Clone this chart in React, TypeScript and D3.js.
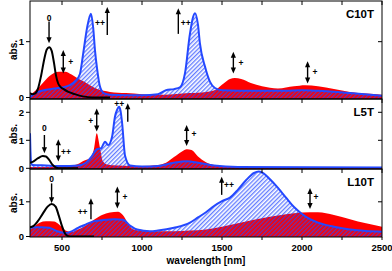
import React from "react";
import * as d3 from "d3";

type P = [number, number];

// ---- data (wavelength nm, absorbance) ----
const c10tNeutral: P[] = [[300,0.08],[315,0.06],[330,0.07],[350,0.16],[370,0.4],[390,0.7],[405,0.86],[420,0.9],[435,0.84],[450,0.62],[462,0.4],[475,0.26],[490,0.19],[510,0.15],[540,0.1],[580,0.06],[630,0.02],[690,0.0],[800,0]];
const c10tCation: P[] = [[300,0.05],[340,0.14],[380,0.26],[420,0.38],[450,0.44],[480,0.46],[520,0.46],[560,0.41],[600,0.34],[640,0.28],[680,0.21],[720,0.15],[800,0.1],[900,0.08],[1000,0.06],[1100,0.05],[1200,0.06],[1300,0.08],[1400,0.1],[1460,0.14],[1510,0.25],[1550,0.33],[1580,0.35],[1620,0.33],[1680,0.26],[1750,0.2],[1850,0.16],[1950,0.2],[2020,0.22],[2100,0.2],[2200,0.15],[2300,0.1],[2400,0.07],[2500,0.05]];
const c10tDication: P[] = [[300,0.01],[320,0.05],[350,0.1],[400,0.14],[450,0.16],[500,0.18],[550,0.22],[585,0.3],[612,0.42],[633,0.8],[658,1.27],[681,1.5],[695,1.25],[706,0.85],[720,0.5],[737,0.2],[760,0.08],[800,0.05],[1000,0.04],[1100,0.06],[1150,0.13],[1200,0.15],[1237,0.18],[1269,0.44],[1300,1.15],[1331,1.51],[1350,1.3],[1362,0.97],[1394,0.55],[1425,0.28],[1456,0.17],[1500,0.13],[1700,0.12],[1900,0.12],[2000,0.13],[2100,0.12],[2300,0.08],[2500,0.03]];

const l5tNeutral: P[] = [[300,0.2],[320,0.24],[350,0.36],[380,0.44],[400,0.42],[420,0.3],[440,0.13],[460,0.03],[480,0],[600,0]];
const l5tCation: P[] = [[300,0.05],[400,0.05],[500,0.05],[550,0.08],[600,0.15],[640,0.28],[675,0.36],[700,0.7],[717,1.25],[735,0.8],[756,0.25],[780,0.14],[850,0.1],[1000,0.08],[1100,0.12],[1150,0.2],[1200,0.4],[1250,0.6],[1280,0.68],[1310,0.65],[1350,0.42],[1400,0.22],[1450,0.12],[1500,0.07],[1600,0.04],[2000,0.02],[2500,0.02]];
const l5tDication: P[] = [[300,1.25],[303,0.6],[307,0.2],[315,0.12],[400,0.1],[500,0.08],[600,0.1],[650,0.2],[685,0.42],[717,0.68],[745,0.72],[769,0.95],[788,0.83],[813,1.13],[831,1.84],[845,2.1],[856,2.2],[866,2.05],[876,1.6],[894,0.45],[925,0.1],[1000,0.06],[1100,0.08],[1200,0.2],[1280,0.25],[1350,0.2],[1450,0.1],[1600,0.05],[2500,0.03]];

const l10tNeutral: P[] = [[300,0.27],[320,0.3],[350,0.45],[380,0.66],[410,0.86],[435,0.94],[460,0.86],[480,0.6],[500,0.3],[520,0.08],[540,0.01],[560,0],[700,0]];
const l10tCation: P[] = [[300,0.2],[330,0.3],[360,0.4],[400,0.44],[450,0.43],[480,0.35],[520,0.18],[560,0.13],[600,0.2],[650,0.32],[700,0.48],[750,0.62],[800,0.69],[850,0.71],[880,0.62],[910,0.4],[940,0.22],[1000,0.17],[1100,0.15],[1200,0.15],[1300,0.17],[1400,0.2],[1500,0.28],[1600,0.38],[1700,0.48],[1800,0.57],[1900,0.64],[2000,0.69],[2100,0.7],[2200,0.62],[2300,0.5],[2400,0.38],[2500,0.28]];
const l10tDication: P[] = [[300,0.25],[330,0.27],[370,0.27],[420,0.25],[470,0.15],[520,0.1],[560,0.15],[600,0.25],[650,0.35],[690,0.43],[750,0.47],[830,0.5],[880,0.48],[930,0.3],[970,0.2],[1050,0.15],[1100,0.17],[1200,0.25],[1300,0.4],[1350,0.55],[1400,0.7],[1450,0.88],[1500,1.02],[1550,1.12],[1600,1.35],[1650,1.62],[1700,1.83],[1730,1.87],[1760,1.82],[1800,1.65],[1850,1.4],[1900,1.12],[1950,0.85],[2000,0.65],[2050,0.5],[2100,0.4],[2200,0.28],[2300,0.2],[2400,0.16],[2500,0.14]];

const panelNames = ["C10T", "L5T", "L10T"];
const leftTicks = [[0, 1], [0, 1, 2], [0, 1]];
const rightTicks = [[1], [1, 2], [1]];
const xTicks = [500, 750, 1000, 1250, 1500, 1750, 2000, 2250, 2500];
const xLabels = [500, 1000, 1500, 2000, 2500];

// arrows: [nm, from, to, kind]  kind: "down" | "up" | "both"
type Arrow = [number, number, number, string];
type Lbl = [number, number, string];
const arrowsC10T: Arrow[] = [[419,1.36,0.97,"down"],[508,0.85,0.43,"both"],[783,1.12,1.62,"up"],[1227,1.14,1.6,"up"],[1571,0.82,0.43,"both"],[2035,0.65,0.25,"both"]];
const labelsC10T: Lbl[] = [[419,1.43,"0"],[554,0.64,"+"],[737,1.34,"++"],[1273,1.34,"++"],[1619,0.62,"+"],[2081,0.46,"+"]];
const arrowsL5T: Arrow[] = [[390,1.19,0.54,"down"],[477,1.04,0.24,"both"],[717,2.14,1.31,"both"],[911,1.66,2.32,"up"],[1279,1.55,0.8,"both"]];
const labelsL5T: Lbl[] = [[390,1.43,"0"],[525,0.59,"++"],[679,1.69,"+"],[858,2.29,"++"],[1325,1.21,"+"]];
const arrowsL10T: Arrow[] = [[435,1.53,0.96,"down"],[681,0.5,1.1,"up"],[846,1.44,0.81,"both"],[1498,1.2,1.72,"up"],[2050,1.4,0.79,"both"]];
const labelsL10T: Lbl[] = [[435,1.65,"0"],[629,0.71,"++"],[894,1.15,"+"],[1544,1.48,"++"],[2087,1.14,"+"]];

const neutral = [c10tNeutral, l5tNeutral, l10tNeutral];
const cation = [c10tCation, l5tCation, l10tCation];
const dication = [c10tDication, l5tDication, l10tDication];
const arrows = [arrowsC10T, arrowsL5T, arrowsL10T];
const labels = [labelsC10T, labelsL5T, labelsL10T];

// ---- layout ----
const W = 392, H = 271;
const X0 = 30, X1 = 382;
const panels = [
  { top: 1, bottom: 99, domain: [-0.027, 1.729] },
  { top: 99, bottom: 169, domain: [-0.025, 2.475] },
  { top: 169, bottom: 237, domain: [-0.014, 1.945] },
];
const RED = "#ff0000";
const BLUE = "#2448ff";
const FONT = "'Liberation Sans', Arial, sans-serif";

const x = d3.scaleLinear().domain([300, 2500]).range([X0, X1]);

function ArrowMark({ px, y1, y2, kind }: { px: number; y1: number; y2: number; kind: string }) {
  const hw = 2.6, hl = 6;
  const head = (tip: number, dir: number) =>
    `M${px},${tip} L${px - hw},${tip - dir * hl} L${px + hw},${tip - dir * hl} Z`;
  const top = Math.min(y1, y2), bot = Math.max(y1, y2);
  const parts: React.ReactNode[] = [];
  let ls = top, le = bot;
  if (kind === "down" || kind === "both") { parts.push(<path key="d" d={head(bot, 1)} fill="#000" />); le = bot - hl + 1; }
  if (kind === "up" || kind === "both") { parts.push(<path key="u" d={head(top, -1)} fill="#000" />); ls = top + hl - 1; }
  return (
    <g>
      <line x1={px} x2={px} y1={ls} y2={le} stroke="#000" strokeWidth={1.4} />
      {parts}
    </g>
  );
}

export default function App() {
  return (
    <svg width={W} height={H} style={{ position: "absolute", left: 0, top: 0, background: "#fff" }} fontFamily={FONT}>
      <defs>
        <pattern id="hatch" patternUnits="userSpaceOnUse" width={3} height={3} patternTransform="rotate(45)">
          <line x1={0.75} y1={0} x2={0.75} y2={3} stroke={BLUE} strokeWidth={0.95} />
        </pattern>
        {panels.map((p, i) => (
          <clipPath id={`clip${i}`} key={i}>
            <rect x={X0} y={p.top} width={X1 - X0} height={p.bottom - p.top} />
          </clipPath>
        ))}
      </defs>
      {panels.map((p, i) => {
        const y = d3.scaleLinear().domain(p.domain).range([p.bottom, p.top]);
        const base = p.domain[0];
        const area = d3.area<P>().x(d => x(d[0])).y0(y(base)).y1(d => y(d[1])).curve(d3.curveMonotoneX);
        const line = d3.line<P>().x(d => x(d[0])).y(d => y(d[1])).curve(d3.curveMonotoneX);
        return (
          <g key={i}>
            <g clipPath={`url(#clip${i})`}>
              <path d={area(cation[i]) || ""} fill={RED} />
              <path d={area(dication[i]) || ""} fill="url(#hatch)" />
              <path d={line(dication[i]) || ""} fill="none" stroke={BLUE} strokeWidth={2} />
              <path d={line(neutral[i]) || ""} fill="none" stroke="#000" strokeWidth={2} />
            </g>
            <rect x={X0} y={p.top} width={X1 - X0} height={p.bottom - p.top} fill="none" stroke="#000" strokeWidth={1} />
            {xTicks.map(t => (
              <line key={t} x1={x(t)} x2={x(t)} y1={p.top} y2={p.top + 4} stroke="#000" strokeWidth={1} />
            ))}
            {leftTicks[i].map(t => (
              <g key={t}>
                <line x1={X0 - 4} x2={X0} y1={y(t)} y2={y(t)} stroke="#000" strokeWidth={1} />
                <text x={X0 - 6} y={y(t)} dy="0.35em" textAnchor="end" fontSize={9.5} fontWeight="bold">{t}</text>
              </g>
            ))}
            {rightTicks[i].map(t => (
              <line key={t} x1={X1 - 4} x2={X1} y1={y(t)} y2={y(t)} stroke="#000" strokeWidth={1} />
            ))}
            <text transform={`translate(13,${(p.top + p.bottom) / 2}) rotate(-90)`} textAnchor="middle" dy="0.35em" fontSize={10} fontWeight="bold">abs.</text>
            <text x={374} y={p.top + 17} textAnchor="end" fontSize={11.5} fontWeight="bold">{panelNames[i]}</text>
            {arrows[i].map((a, k) => (
              <ArrowMark key={k} px={x(a[0])} y1={y(a[1])} y2={y(a[2])} kind={a[3]} />
            ))}
            {labels[i].map((l, k) => (
              <text key={k} x={x(l[0])} y={y(l[1])} dy="0.35em" textAnchor="middle" fontSize={8.5} fontWeight="bold" fill="#000">{l[2]}</text>
            ))}
          </g>
        );
      })}
      {xTicks.map(t => (
        <line key={t} x1={x(t)} x2={x(t)} y1={237} y2={240} stroke="#000" strokeWidth={1} />
      ))}
      {xLabels.map(t => (
        <text key={t} x={x(t)} y={251} textAnchor="middle" fontSize={9.5} fontWeight="bold">{t}</text>
      ))}
      <text x={206} y={264} textAnchor="middle" fontSize={10} fontWeight="bold">wavelength [nm]</text>
    </svg>
  );
}
